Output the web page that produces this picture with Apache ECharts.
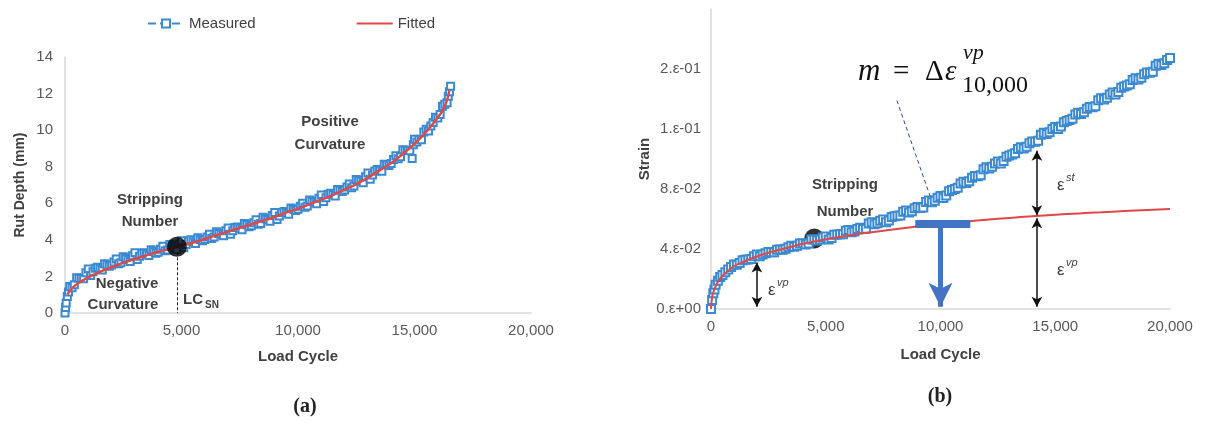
<!DOCTYPE html>
<html>
<head>
<meta charset="utf-8">
<script src="https://cdn.jsdelivr.net/npm/echarts@6/dist/echarts.min.js"></script>
<style>
  html, body { margin: 0; padding: 0; background: #ffffff; }
  #chart { width: 1205px; height: 423px; }
</style>
</head>
<body>
<div id="chart"></div>
<script>
// ---- (a) Rut depth (mm) against load cycle ----
const rutMeasured = [
  [0,0],[25,0.3],[50,0.55],[100,0.9],[150,1.15],[200,1.45],[300,1.38],[400,1.55],[500,1.93],[600,1.9],[700,1.9],[800,1.87],
  [900,2.2],[1000,2.4],[1100,2.05],[1200,2.25],[1300,2.45],[1400,2.5],[1500,2.43],[1600,2.35],[1700,2.69],[1800,2.62],
  [1900,2.55],[2000,2.62],[2100,2.79],[2200,2.95],[2300,2.7],[2400,2.75],[2500,3.08],[2600,3.0],[2700,2.92],[2800,2.82],
  [2900,3.13],[3000,3.3],[3100,2.92],[3200,3.1],[3300,3.27],[3400,3.3],[3500,3.23],[3600,3.15],[3700,3.46],[3800,3.37],
  [3900,3.27],[4000,3.32],[4100,3.49],[4200,3.65],[4300,3.4],[4400,3.45],[4500,3.75],[4600,3.65],[4700,3.57],[4800,3.47],
  [4900,3.78],[5000,3.95],[5100,3.57],[5200,3.75],[5300,3.95],[5400,4.0],[5500,3.9],[5600,3.8],[5700,4.11],[5800,4.02],
  [5900,3.95],[6000,4.02],[6100,4.16],[6200,4.3],[6300,4.08],[6400,4.15],[6500,4.45],[6600,4.35],[6700,4.3],[6800,4.22],
  [6900,4.5],[7000,4.65],[7100,4.3],[7200,4.5],[7300,4.67],[7400,4.7],[7500,4.63],[7600,4.55],[7700,4.89],[7800,4.82],
  [7900,4.72],[8000,4.77],[8100,4.94],[8200,5.1],[8300,4.85],[8400,4.9],[8500,5.23],[8600,5.15],[8700,5.1],[8800,5.02],
  [8900,5.33],[9000,5.5],[9100,5.12],[9200,5.3],[9300,5.5],[9400,5.55],[9500,5.48],[9600,5.4],[9700,5.74],[9800,5.67],
  [9900,5.6],[10000,5.67],[10100,5.84],[10200,6.0],[10300,5.78],[10400,5.85],[10500,6.18],[10600,6.1],[10700,6.05],[10800,5.97],
  [10900,6.28],[11000,6.45],[11100,6.1],[11200,6.3],[11300,6.5],[11400,6.55],[11500,6.48],[11600,6.4],[11700,6.76],[11800,6.72],
  [11900,6.65],[12000,6.72],[12100,6.89],[12200,7.05],[12300,6.85],[12400,6.95],[12500,7.3],[12600,7.25],[12700,7.2],[12800,7.12],
  [12900,7.45],[13000,7.65],[13100,7.32],[13200,7.55],[13300,7.77],[13400,7.85],[13500,7.8],[13600,7.75],[13700,8.14],[13800,8.12],
  [13900,8.07],[14000,8.17],[14100,8.39],[14200,8.6],[14300,8.43],[14400,8.55],[14500,8.93],[14600,8.9],[14700,8.9],[14800,8.87],
  [14900,8.45],[14950,9.2],[15000,9.5],[15100,9.35],[15200,9.5],[15300,9.47],[15400,9.9],[15500,10.05],[15600,9.95],[15700,10.23],
  [15800,10.42],[15900,10.71],[16000,10.67],[16100,10.85],[16200,11.3],[16300,11.41],[16400,11.5],[16450,11.85],[16500,12.1],[16550,12.4]
];
const rutFitted = [
  [100,1.0],[300,1.35],[600,1.65],[1000,1.95],[1500,2.25],[2000,2.5],[2500,2.75],[3000,2.95],[3500,3.15],[4000,3.35],
  [4500,3.5],[5000,3.7],[5500,3.85],[6000,4.05],[6500,4.25],[7000,4.45],[7500,4.65],[8000,4.85],[8500,5.05],[9000,5.25],
  [9500,5.5],[10000,5.7],[10500,5.95],[11000,6.2],[11500,6.45],[12000,6.75],[12500,7.05],[13000,7.4],[13500,7.8],[14000,8.2],
  [14500,8.7],[15000,9.25],[15500,9.9],[16000,10.7],[16300,11.3],[16500,12.2]
];
const rutStripping = [[4800, 3.62]];

// ---- (b) Strain against load cycle ----
const strainMeasured = [
  [0,0],[50,0.0060],[100,0.0105],[150,0.0130],[200,0.0162],[300,0.0188],[400,0.0214],[500,0.0226],[625,0.0245],[750,0.0263],
  [875,0.0280],[1000,0.0296],[1125,0.0295],[1250,0.0306],[1375,0.03245],[1500,0.0328],[1625,0.03305],[1750,0.0333],[1875,0.0351],
  [2000,0.0363],[2125,0.0352],[2250,0.0363],[2375,0.03725],[2500,0.0380],[2625,0.0379],[2750,0.0379],[2875,0.03955],[3000,0.0397],
  [3125,0.03955],[3250,0.0402],[3375,0.04115],[3500,0.0421],[3625,0.0415],[3750,0.0421],[3875,0.0437],[4000,0.0438],[4125,0.0430],
  [4250,0.0437],[4375,0.0464],[4500,0.0463],[4625,0.0456],[4750,0.0463],[4875,0.0477],[5000,0.0484],[5125,0.0464],[5250,0.0473],
  [5375,0.0495],[5500,0.0497],[5625,0.0498],[5750,0.0499],[5875,0.0521],[6000,0.0527],[6125,0.0511],[6250,0.0517],[6375,0.0534],
  [6500,0.0541],[6625,0.05335],[6750,0.0535],[6875,0.0570],[7000,0.0578],[7125,0.05645],[7250,0.0572],[7375,0.05885],[7500,0.0597],
  [7625,0.0579],[7750,0.0590],[7875,0.0614],[8000,0.0618],[8125,0.0621],[8250,0.0624],[8375,0.06485],[8500,0.0657],[8625,0.06435],
  [8750,0.0652],[8875,0.0671],[9000,0.0680],[9125,0.0674],[9250,0.0677],[9375,0.0714],[9500,0.0724],[9625,0.07125],[9750,0.0722],
  [9875,0.0742],[10000,0.0754],[10125,0.07405],[10250,0.0756],[10375,0.07845],[10500,0.0793],[10625,0.08005],[10750,0.0808],
  [10875,0.08365],[11000,0.0849],[11125,0.08395],[11250,0.0852],[11375,0.08745],[11500,0.0887],[11625,0.08845],[11750,0.0891],
  [11875,0.09315],[12000,0.0945],[12125,0.09365],[12250,0.0949],[12375,0.09705],[12500,0.0984],[12625,0.09705],[12750,0.0986],
  [12875,0.10145],[13000,0.1023],[13125,0.10305],[13250,0.1038],[13375,0.10665],[13500,0.1079],[13625,0.10695],[13750,0.1082],
  [13875,0.11045],[14000,0.1117],[14125,0.11145],[14250,0.1121],[14375,0.11615],[14500,0.1175],[14625,0.11665],[14750,0.1179],
  [14875,0.12005],[15000,0.1214],[15125,0.12005],[15250,0.1216],[15375,0.12445],[15500,0.1253],[15625,0.12605],[15750,0.1268],
  [15875,0.12965],[16000,0.1309],[16125,0.12995],[16250,0.1312],[16375,0.13345],[16500,0.1347],[16625,0.13445],[16750,0.1351],
  [16875,0.13915],[17000,0.1405],[17125,0.13965],[17250,0.1409],[17375,0.14305],[17500,0.1444],[17625,0.14305],[17750,0.1446],
  [17875,0.14745],[18000,0.1483],[18125,0.14905],[18250,0.1498],[18375,0.15265],[18500,0.1539],[18625,0.15295],[18750,0.1542],
  [18875,0.15645],[19000,0.1577],[19125,0.15745],[19250,0.1581],[19375,0.16215],[19500,0.1635],[19625,0.16265],[19750,0.1639],
  [19875,0.16605],[20000,0.1674]
];
const strainFitted = [
  [0,0],[50,0.008],[100,0.011],[200,0.015],[300,0.018],[500,0.022],[750,0.0255],[1000,0.0285],[1500,0.032],[2000,0.035],
  [2500,0.0375],[3000,0.0395],[3500,0.0415],[4000,0.0435],[4500,0.045],[5000,0.0465],[6000,0.049],[7000,0.0512],
  [8000,0.0532],[9000,0.055],[10000,0.0567],[11000,0.0582],[12000,0.0595],[13000,0.0607],[14000,0.0618],[15000,0.0628],
  [16000,0.0637],[17000,0.0645],[18000,0.0653],[19000,0.066],[20000,0.0667]
];
const strainStripping = [[4500, 0.047]];

// annotation anchors (load cycle, strain)
const vpLeftLoad = 2000;
const vpLeftSpan = [0.0015, 0.031];
const stLoad = 14200;
const vpRightSpan = [0.0015, 0.0605];
const stSpan = [0.0625, 0.1055];
const slopeLoad = 10000;
const slopeBar = [8900, 11300, 0.0567];
const pointerLine = [[8100, 0.139], [9550, 0.075]];

const FONT = '"Liberation Sans", Arial, Helvetica, sans-serif';
const SERIF = '"Liberation Serif", "Times New Roman", serif';
const BLUE = '#3a89d1';
const RED = '#e04848';
const DEEP_BLUE = '#4472c4';
const TEXT = '#404040';
const AXIS = '#d9d9d9';

function thousands(v) { return v.toLocaleString('en-US'); }
function sciLabel(v) {
  if (v === 0) return '0.\u03b5+00';
  const parts = v.toExponential(0).split('e');
  const n = parseInt(parts[1], 10);
  return parts[0] + '.\u03b5' + (n < 0 ? '-' : '+') + String(Math.abs(n)).padStart(2, '0');
}

function xAxisFor(gridIndex, nameGap) {
  return {
    type: 'value', gridIndex, min: 0, max: 20000, interval: 5000,
    axisLine: { show: true, lineStyle: { color: AXIS, width: 1.5 } },
    axisTick: { show: false }, splitLine: { show: false },
    axisLabel: { formatter: thousands, color: '#595959', fontFamily: FONT, fontSize: 15, margin: 10 },
    name: 'Load Cycle', nameLocation: 'middle', nameGap,
    nameTextStyle: { fontWeight: 'bold', fontSize: 15, color: TEXT, fontFamily: FONT }
  };
}

function arrowPair(a, b, color, width, size) {
  return [
    { coord: a, symbol: 'arrow', symbolSize: size, lineStyle: { color, width, type: 'solid' } },
    { coord: b, symbol: 'arrow', symbolSize: size }
  ];
}

function txt(x, y, text, opts) {
  return {
    type: 'text', x, y, z: 100,
    style: Object.assign({
      text, fill: TEXT, font: 'bold 15px ' + FONT,
      textAlign: 'center', textVerticalAlign: 'middle', align: 'center', verticalAlign: 'middle'
    }, opts || {})
  };
}

const option = {
  animation: false,
  backgroundColor: '#ffffff',
  legend: {
    left: 142, top: 11, itemWidth: 36, itemHeight: 10, itemGap: 100,
    data: [
      { name: 'Measured' },
      { name: 'Fitted', itemStyle: { opacity: 0 } }
    ],
    textStyle: { fontFamily: FONT, fontSize: 15, color: TEXT }
  },
  grid: [
    { left: 65, top: 57, width: 466, height: 256 },
    { left: 711, top: 9, width: 459, height: 300 }
  ],
  xAxis: [xAxisFor(0, 36), xAxisFor(1, 38)],
  yAxis: [
    {
      type: 'value', gridIndex: 0, min: 0, max: 14, interval: 2,
      axisLine: { show: true, lineStyle: { color: AXIS, width: 1.5 } },
      axisTick: { show: false }, splitLine: { show: false },
      axisLabel: { color: '#595959', fontFamily: FONT, fontSize: 15, margin: 12 },
      name: 'Rut Depth (mm)', nameLocation: 'middle', nameGap: 38,
      nameTextStyle: { fontWeight: 'bold', fontSize: 14, color: TEXT, fontFamily: FONT }
    },
    {
      type: 'value', gridIndex: 1, min: 0, max: 0.2, interval: 0.04,
      axisLine: { show: true, lineStyle: { color: AXIS, width: 1.5 } },
      axisTick: { show: false }, splitLine: { show: false },
      axisLabel: { formatter: sciLabel, showMaxLabel: false, color: '#595959', fontFamily: FONT, fontSize: 15, margin: 10 },
      name: 'Strain', nameLocation: 'middle', nameGap: 55,
      nameTextStyle: { fontWeight: 'bold', fontSize: 15, color: TEXT, fontFamily: FONT }
    }
  ],
  series: [
    {
      name: 'Measured', type: 'line', xAxisIndex: 0, yAxisIndex: 0, data: rutMeasured, z: 2,
      symbol: 'emptyRect', symbolSize: 7, showAllSymbol: true,
      lineStyle: { color: BLUE, width: 1, type: 'dashed' },
      itemStyle: { color: BLUE, borderWidth: 1.3 }
    },
    {
      name: 'Fitted', type: 'line', xAxisIndex: 0, yAxisIndex: 0, data: rutFitted, z: 3,
      smooth: true, symbol: 'none', lineStyle: { color: RED, width: 2.5 }, itemStyle: { color: RED },
      markLine: {
        silent: true, animation: false, label: { show: false },
        data: [[
          { coord: [rutStripping[0][0], rutStripping[0][1] - 0.3], symbol: 'none', lineStyle: { color: '#222', width: 1, type: [3, 2] } },
          { coord: [rutStripping[0][0], 0], symbol: 'none' }
        ]]
      }
    },
    {
      name: 'Stripping Number', type: 'scatter', xAxisIndex: 0, yAxisIndex: 0, data: rutStripping, z: 5,
      symbol: 'circle', symbolSize: 20, itemStyle: { color: '#000000' }
    },
    {
      name: 'Stripping Number', type: 'scatter', xAxisIndex: 1, yAxisIndex: 1, data: strainStripping, z: 1,
      symbol: 'circle', symbolSize: 20, itemStyle: { color: '#000000' }
    },
    {
      name: 'Measured', type: 'line', xAxisIndex: 1, yAxisIndex: 1, data: strainMeasured, z: 2,
      symbol: 'emptyRect', symbolSize: 8, showAllSymbol: true,
      lineStyle: { color: BLUE, width: 1, type: 'dashed' },
      itemStyle: { color: BLUE, borderWidth: 1.3 }
    },
    {
      name: 'Fitted', type: 'line', xAxisIndex: 1, yAxisIndex: 1, data: strainFitted, z: 3,
      smooth: true, symbol: 'none', lineStyle: { color: RED, width: 2 }, itemStyle: { color: RED }
    },
    {
      name: 'annotations', type: 'line', xAxisIndex: 1, yAxisIndex: 1, data: [], z: 10,
      markLine: {
        silent: true, animation: false, label: { show: false },
        data: [
          arrowPair([vpLeftLoad, vpLeftSpan[0]], [vpLeftLoad, vpLeftSpan[1]], '#111', 1.5, [8, 10]),
          arrowPair([stLoad, vpRightSpan[0]], [stLoad, vpRightSpan[1]], '#111', 1.5, [8, 10]),
          arrowPair([stLoad, stSpan[0]], [stLoad, stSpan[1]], '#111', 1.5, [8, 10]),
          [
            { coord: pointerLine[0], symbol: 'none', lineStyle: { color: '#2e4d8a', width: 1, type: [4, 3] } },
            { coord: pointerLine[1], symbol: 'none' }
          ],
          [
            { coord: [slopeBar[0], slopeBar[2]], symbol: 'none', lineStyle: { color: DEEP_BLUE, width: 8, type: 'solid', cap: 'butt' } },
            { coord: [slopeBar[1], slopeBar[2]], symbol: 'none' }
          ],
          [
            { coord: [slopeLoad, slopeBar[2] - 0.002], symbol: 'none', lineStyle: { color: DEEP_BLUE, width: 5, type: 'solid' } },
            { coord: [slopeLoad, 0.0015], symbol: 'arrow', symbolSize: [18, 24] }
          ]
        ]
      }
    }
  ],
  graphic: [
    // panel (a) notes
    txt(330, 122, 'Positive'), txt(330, 145, 'Curvature'),
    txt(150, 200, 'Stripping'), txt(150, 222, 'Number'),
    txt(127, 284, 'Negative'), txt(123, 305, 'Curvature'),
    txt(183, 300, 'LC', { textAlign: 'left', align: 'left' }),
    txt(205, 305, 'SN', { textAlign: 'left', align: 'left', font: 'bold 10px ' + FONT }),
    txt(305, 407, '(a)', { font: 'bold 20px ' + SERIF, fill: '#222' }),
    // panel (b) notes
    txt(845, 185, 'Stripping'), txt(845, 212, 'Number'),
    txt(940, 397, '(b)', { font: 'bold 20px ' + SERIF, fill: '#222' }),
    txt(768, 290, '\u03b5', { textAlign: 'left', align: 'left', font: '17px ' + FONT }),
    txt(777, 283, 'vp', { textAlign: 'left', align: 'left', font: 'italic 11px ' + FONT }),
    txt(1057, 185, '\u03b5', { textAlign: 'left', align: 'left', font: '17px ' + FONT }),
    txt(1066, 178, 'st', { textAlign: 'left', align: 'left', font: 'italic 11px ' + FONT }),
    txt(1057, 270, '\u03b5', { textAlign: 'left', align: 'left', font: '17px ' + FONT }),
    txt(1066, 263, 'vp', { textAlign: 'left', align: 'left', font: 'italic 11px ' + FONT }),
    // slope definition
    txt(858, 72, 'm', { textAlign: 'left', align: 'left', font: 'italic 31px ' + SERIF, fill: '#111' }),
    txt(893, 72, '=', { textAlign: 'left', align: 'left', font: '29px ' + SERIF, fill: '#111' }),
    txt(925, 72, '\u0394', { textAlign: 'left', align: 'left', font: '29px ' + SERIF, fill: '#111' }),
    txt(945, 72, '\u03b5', { textAlign: 'left', align: 'left', font: 'italic 29px ' + SERIF, fill: '#111' }),
    txt(963, 53, 'vp', { textAlign: 'left', align: 'left', font: 'italic 22px ' + SERIF, fill: '#111' }),
    txt(962, 86, '10,000', { textAlign: 'left', align: 'left', font: '24px ' + SERIF, fill: '#111' })
  ]
};

const chart = echarts.init(document.getElementById('chart'));
chart.setOption(option);
</script>
</body>
</html>
